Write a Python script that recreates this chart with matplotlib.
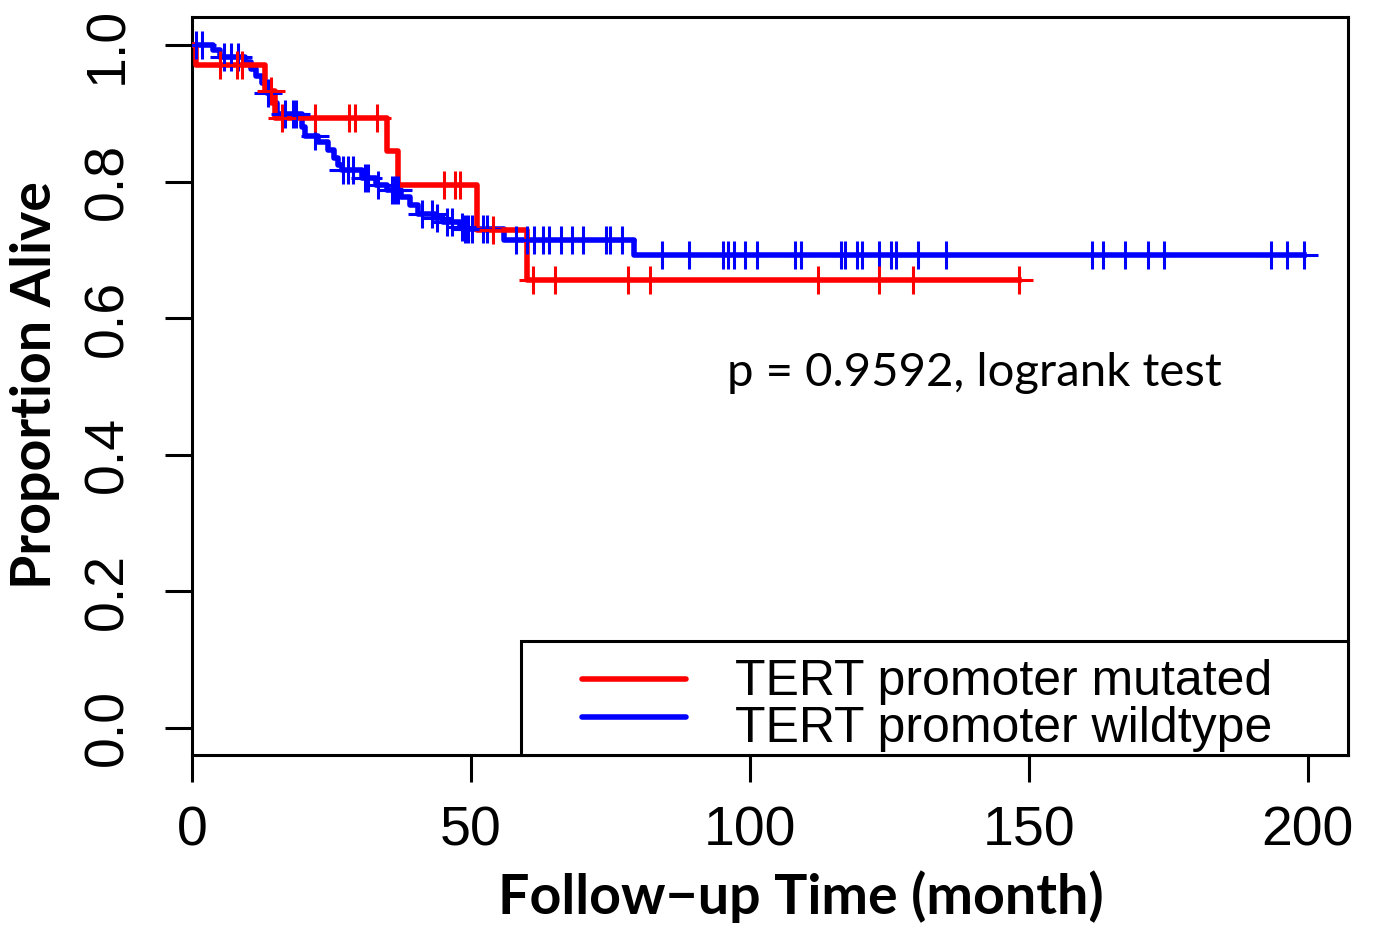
import numpy as np
import matplotlib
matplotlib.use("Agg")
import matplotlib.pyplot as plt
from matplotlib.patches import Rectangle

# Kaplan-Meier curves (months, proportion alive after the step)
mut_times = [0.8, 13.1, 14.9, 35.0, 37.0, 51.0, 60.1]
mut_surv = [0.971, 0.932, 0.893, 0.844, 0.795, 0.729, 0.656]
mut_censor = [5.0, 8.0, 9.0, 14.2, 16.1, 22.0, 28.2, 29.2, 33.2, 45.2, 47.1, 48.0,
              54.0, 61.1, 65.1, 78.1, 82.1, 112.2, 123.1, 129.2, 148.2]

wt_times = [3.8, 5.0, 9.5, 10.5, 11.5, 12.5, 13.5, 14.5, 15.3, 19.8, 20.3, 22.5,
            24.3, 25.5, 26.2, 26.8, 30.5, 33.0, 35.0, 37.5, 39.0, 40.5, 43.5, 45.0,
            48.0, 48.6, 56.0, 79.2]
wt_surv = [0.993, 0.983, 0.975, 0.965, 0.955, 0.945, 0.930, 0.915, 0.899, 0.880,
           0.866, 0.858, 0.846, 0.834, 0.824, 0.817, 0.805, 0.795, 0.788, 0.778,
           0.765, 0.753, 0.746, 0.741, 0.734, 0.731, 0.7145, 0.6925]
wt_censor = [0.7, 1.8, 5.7, 7.0, 8.2, 13.6, 16.7, 18.1, 18.6, 22.0, 27.1, 28.0, 28.9,
             31.0, 31.5, 33.3, 35.8, 36.4, 36.9, 41.2, 43.0, 43.9, 45.7, 46.6, 48.4,
             48.9, 49.5, 50.2, 52.2, 52.9, 58.1, 60.0, 61.3, 62.9, 64.0, 66.1, 68.1,
             70.1, 74.2, 74.9, 77.1, 84.2, 89.1, 95.2, 96.1, 97.1, 99.1, 101.3, 108.1,
             109.1, 116.3, 117.0, 119.2, 120.1, 123.1, 125.3, 126.2, 130.1, 135.1,
             161.3, 163.3, 167.2, 171.3, 174.2, 193.4, 196.2, 199.3]

labels = ["TERT promoter mutated", "TERT promoter wildtype"]
colors = ["#ff0000", "#0000ff"]
x_ticks = [0, 50, 100, 150, 200]
y_ticks = [0.0, 0.2, 0.4, 0.6, 0.8, 1.0]
p_text = "p = 0.9592, logrank test"

plt.rcParams['font.family'] = ['Liberation Sans', 'DejaVu Sans']


def km_steps(times, surv, censor):
    t = np.concatenate([[0.0], times])
    s = np.concatenate([[1.0], surv])
    end = max(censor[-1], t[-1])
    x = np.append(t, end)
    y = np.append(s, s[-1])
    idx = np.searchsorted(t, censor, side="right") - 1
    return x, y, np.asarray(censor), s[idx]


fig = plt.figure(figsize=(13.75, 9.3), dpi=100)
ax = fig.add_axes([192 / 1375, 1 - 755 / 930, (1348 - 192) / 1375, (755 - 17) / 930])

curves = [(mut_times, mut_surv, mut_censor), (wt_times, wt_surv, wt_censor)]
for (times, surv, censor), col in zip(curves[::-1], colors[::-1]):
    x, y, cx, cy = km_steps(times, surv, censor)
    ax.step(x, y, where="post", color=col, lw=4.0, zorder=3)
    ax.plot(cx, cy, ls="none", marker="+", ms=20, mew=2.2, color=col, zorder=4)

ax.set_xlim(0, 207.2)
ax.set_ylim(-0.04, 1.041)
ax.set_xticks(x_ticks)
ax.set_xticklabels([str(v) for v in x_ticks])
ax.set_yticks(y_ticks)
ax.set_yticklabels([f"{v:.1f}" for v in y_ticks], rotation=90, va="center")
ax.tick_params(axis="both", direction="out", length=19.4, width=2.2, labelsize=40)
ax.tick_params(axis="x", pad=17)
ax.tick_params(axis="y", pad=22)
for sp in ax.spines.values():
    sp.set_linewidth(2.2)

ax.text(140.2, 0.52, p_text, ha="center", va="center", fontsize=34,
        family=["Lato", "DejaVu Sans"])

# legend box in the lower right corner, R style
ax.add_patch(Rectangle((0.2846, 0.0), 0.7154, 0.1545, transform=ax.transAxes,
                       facecolor="white", edgecolor="black", lw=2.2, zorder=5, clip_on=False))
for lab, col, ly, ty in zip(labels, colors, [0.103, 0.0515], [0.0813, 0.0176]):
    ax.plot([0.3374, 0.4273], [ly, ly], transform=ax.transAxes, color=col, lw=4.0,
            solid_capstyle="round", zorder=6)
    ax.text(0.4697, ty, lab, transform=ax.transAxes, ha="left", va="baseline",
            fontsize=36, zorder=6)

fig.text(801 / 1375, 1 - 897 / 930, "Follow\u2212up Time (month)", ha="center", va="center",
         fontsize=40, fontweight="bold", family=["Lato", "DejaVu Sans"])
fig.text(35 / 1375, 1 - 385 / 930, "Proportion Alive", ha="center", va="center",
         rotation=90, fontsize=40, fontweight="bold", family=["Lato", "DejaVu Sans"])

fig.savefig("out.png", dpi=100)
